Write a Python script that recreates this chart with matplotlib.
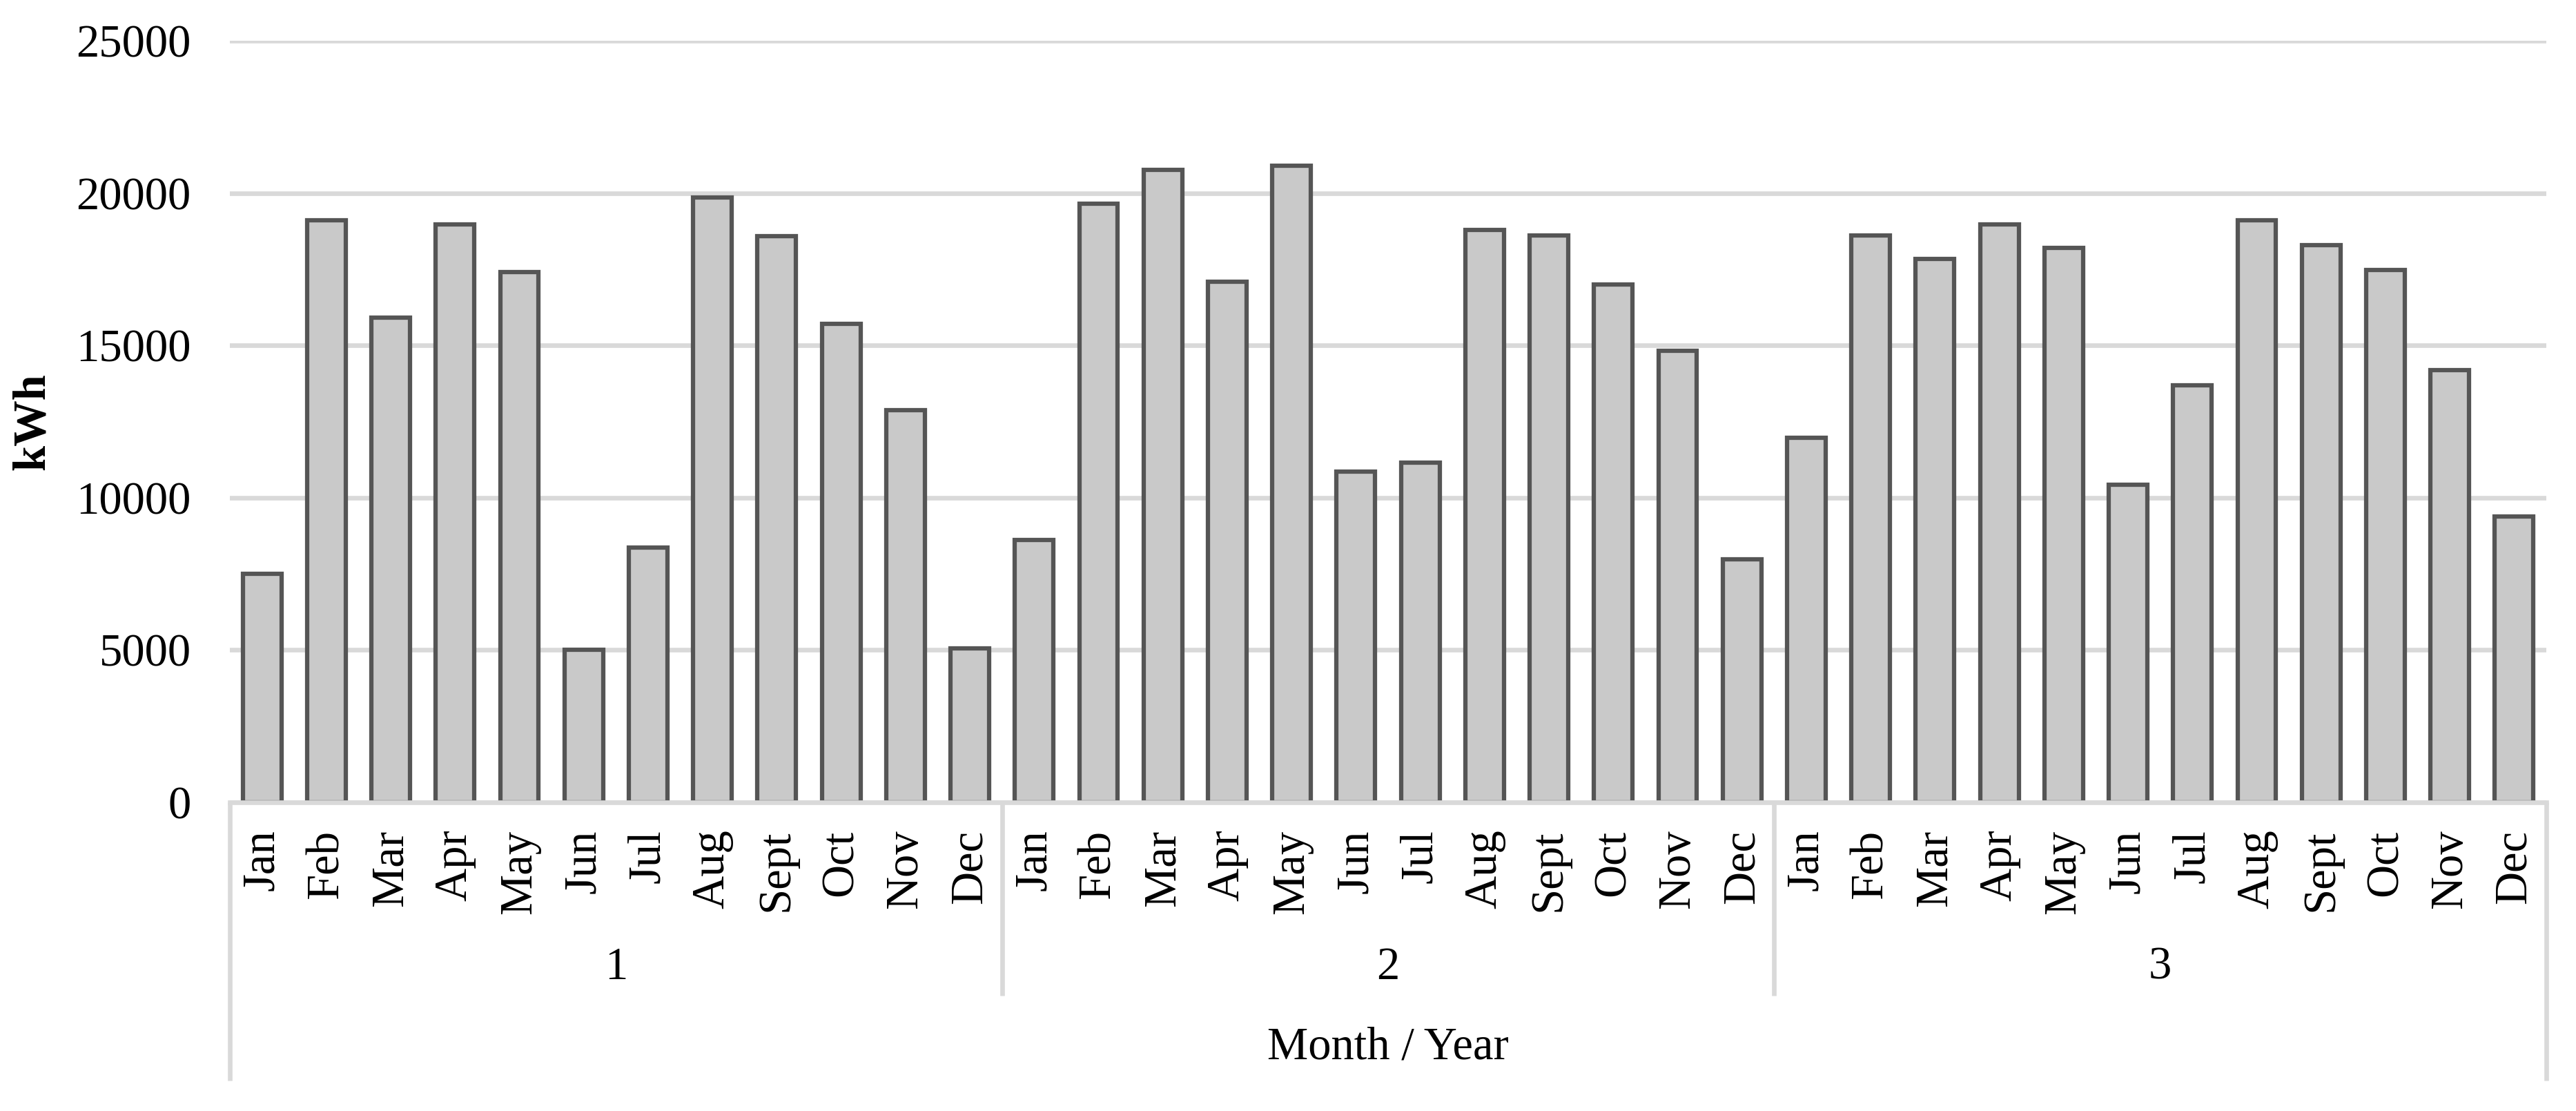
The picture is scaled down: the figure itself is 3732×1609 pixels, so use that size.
import numpy as np
import matplotlib
matplotlib.use("Agg")
import matplotlib.pyplot as plt

plt.rcParams['font.family'] = ['Liberation Serif', 'DejaVu Serif']

months = ['Jan', 'Feb', 'Mar', 'Apr', 'May', 'Jun',
          'Jul', 'Aug', 'Sept', 'Oct', 'Nov', 'Dec']
years = ['1', '2', '3']

# monthly consumption, kWh
year1 = [7510, 19110, 15910, 18960, 17410, 5010, 8370, 19850, 18580, 15700, 12880, 5050]
year2 = [8610, 19650, 20760, 17100, 20900, 10860, 11150, 18780, 18600, 16990, 14820, 7980]
year3 = [11960, 18610, 17830, 18960, 18210, 10430, 13700, 19110, 18280, 17480, 14180, 9390]

values = year1 + year2 + year3
labels = months * len(years)
x = np.arange(len(values))

grid_col = '#d9d9d9'

fig = plt.figure(figsize=(3732 / 300, 1609 / 300), dpi=300)
ax = fig.add_axes([333 / 3732, 1 - 1162 / 1609, (3689 - 333) / 3732, (1162 - 59) / 1609])

ax.bar(x, values, width=0.6, color='#c9c9c9', edgecolor='#555555', linewidth=1.5, zorder=2)

ax.set_xlim(-0.5, len(values) - 0.5)
ax.set_ylim(0, 25000)
ax.set_yticks(np.arange(0, 25001, 5000))
ax.yaxis.grid(True, color=grid_col, linewidth=1.6)
ax.set_axisbelow(True)

for s in ['top', 'right', 'left']:
    ax.spines[s].set_visible(False)
ax.spines['bottom'].set_color(grid_col)
ax.spines['bottom'].set_linewidth(1.6)

ax.set_xticks(x)
ax.set_xticklabels(labels, rotation=90, va='top', ha='center')
ax.tick_params(axis='x', length=0, pad=9.5, labelsize=16)
ax.tick_params(axis='y', length=0, pad=13.5, labelsize=16)

ax.set_ylabel('kWh', fontsize=16, fontweight='bold', va='center')
ax.yaxis.set_label_coords(-0.0852, 0.5)

# group separators under the axis
trans = ax.get_xaxis_transform()
n = len(months)
for i in range(len(years) + 1):
    xb = i * n - 0.5
    ybot = -0.365 if i in (0, len(years)) else -0.254
    ax.plot([xb, xb], [0, ybot], color=grid_col, linewidth=1.6,
            transform=trans, clip_on=False, solid_capstyle='butt')

for i, yr in enumerate(years):
    ax.text(i * n + (n - 1) / 2, -0.2167, yr, transform=trans,
            ha='center', va='center', fontsize=16)

ax.text(0.5, -0.322, 'Month / Year', transform=ax.transAxes,
        ha='center', va='center', fontsize=16)

fig.savefig('out.png', dpi=300)
